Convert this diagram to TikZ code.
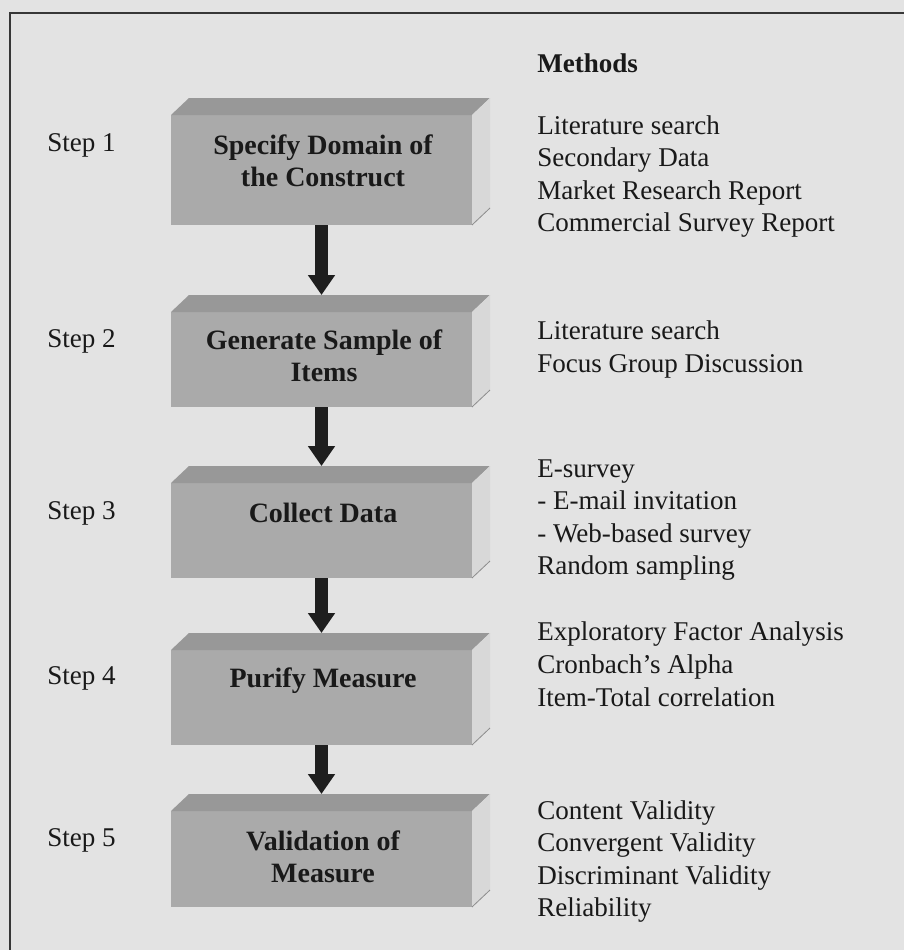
\documentclass[tikz,border=0pt]{standalone}
\usepackage{fontspec}
\setmainfont{Liberation Serif}
\usetikzlibrary{arrows.meta,calc}

\definecolor{pagebg}{RGB}{227,227,227}
\definecolor{frontface}{RGB}{170,170,170}
\definecolor{topface}{RGB}{152,152,152}
\definecolor{sideface}{RGB}{216,216,216}
\definecolor{sideedge}{RGB}{140,140,140}
\definecolor{framecol}{RGB}{55,55,55}
\definecolor{arrowcol}{RGB}{30,30,30}
\definecolor{inkcol}{RGB}{25,25,25}

% draws the top and right faces of a block behind its front node #1
\newcommand{\blockfaces}[1]{%
  \fill[topface] (#1.north west) -- ++(18,-17) -- ($(#1.north east)+(18,-17)$) -- (#1.north east) -- cycle;
  \fill[sideface] (#1.north east) -- ++(18,-17) -- ($(#1.south east)+(18,-17)$) -- (#1.south east) -- cycle;
  \draw[sideedge, line width=0.6pt] (#1.south east) -- ++(18,-17);
}

\begin{document}
\begin{tikzpicture}[x=0.75pt, y=-0.75pt,
  every node/.style={text=inkcol, inner sep=0pt},
  body/.style={font=\fontsize{20.3}{24.4}\selectfont},
  blocktext/.style={font=\fontsize{21}{24}\selectfont\bfseries, align=center, anchor=base},
  front/.style={fill=frontface, inner sep=0pt, outer sep=0pt, minimum width=225.75pt},
  steplabel/.style={body, anchor=base west},
  methods/.style={body, anchor=base west, align=left},
  flow/.style={arrowcol, line width=9.75pt, -{Triangle[width=19.5pt, length=15pt]}}
]
  % page
  \fill[pagebg] (0,0) rectangle (904,950);
  \useasboundingbox (0,0) rectangle (904,950);
  \draw[framecol, line width=1.5pt] (10,950) -- (10,13) -- (904,13);

  % front faces of the five blocks
  \node[front, minimum height=82.5pt]  (b1) at (321.5,170)   {};
  \node[front, minimum height=71.25pt] (b2) at (321.5,359.5) {};
  \node[front, minimum height=71.25pt] (b3) at (321.5,530.5) {};
  \node[front, minimum height=71.25pt] (b4) at (321.5,697.5) {};
  \node[front, minimum height=72pt]    (b5) at (321.5,859)   {};
  \blockfaces{b1}
  \blockfaces{b2}
  \blockfaces{b3}
  \blockfaces{b4}
  \blockfaces{b5}

  % block titles (anchored on the baseline of their last line)
  \node[blocktext] (t1) at (323,186) {Specify Domain of\\the Construct};
  \node[blocktext] (t2) at (324,381) {Generate Sample of\\Items};
  \node[blocktext] (t3) at (323,522) {Collect Data};
  \node[blocktext] (t4) at (323,687) {Purify Measure};
  \node[blocktext] (t5) at (323,882) {Validation of\\Measure};

  % step labels
  \node[steplabel] (s1) at (47,151) {Step 1};
  \node[steplabel] (s2) at (47,347) {Step 2};
  \node[steplabel] (s3) at (47,519) {Step 3};
  \node[steplabel] (s4) at (47,684) {Step 4};
  \node[steplabel] (s5) at (47,846) {Step 5};

  % methods column (anchored on the baseline of the last line)
  \node[body, anchor=base west, font=\fontsize{20.3}{24.4}\selectfont\bfseries] (mh) at (537,72) {Methods};
  \node[methods] (m1) at (537,231.6) {Literature search\\Secondary Data\\Market Research Report\\Commercial Survey Report};
  \node[methods] (m2) at (537,372.5) {Literature search\\Focus Group Discussion};
  \node[methods] (m3) at (537,574.6) {E-survey\\- E-mail invitation\\- Web-based survey\\Random sampling};
  \node[methods] (m4) at (537,706) {Exploratory Factor Analysis\\Cronbach's Alpha\\Item-Total correlation};
  \node[methods] (m5) at (537,916.6) {Content Validity\\Convergent Validity\\Discriminant Validity\\Reliability};

  % flow arrows from each block to the top of the next
  \draw[flow] (b1.south) -- ($(b2.north)+(0,-17)$);
  \draw[flow] (b2.south) -- ($(b3.north)+(0,-17)$);
  \draw[flow] (b3.south) -- ($(b4.north)+(0,-17)$);
  \draw[flow] (b4.south) -- ($(b5.north)+(0,-17)$);
\end{tikzpicture}
\end{document}
